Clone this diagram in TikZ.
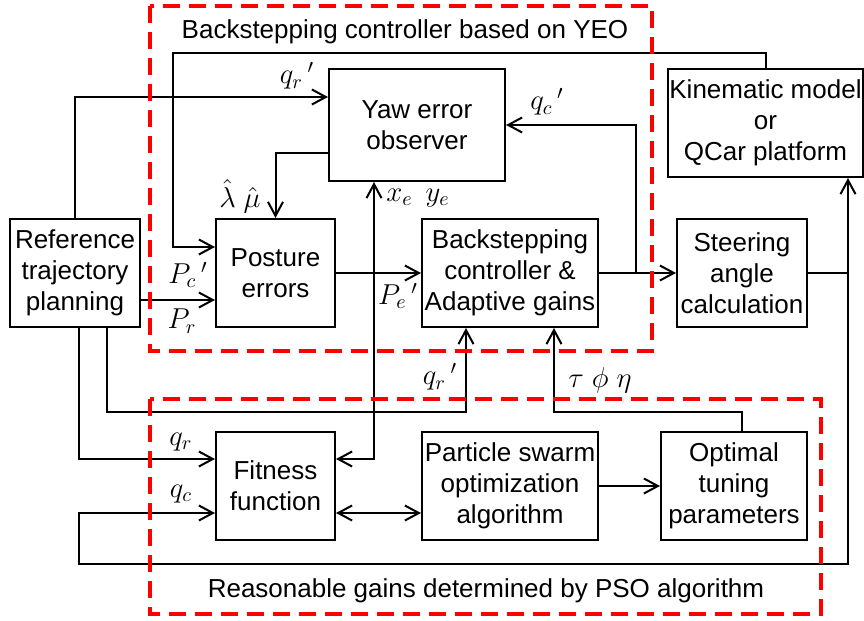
\documentclass[tikz,border=0pt]{standalone}
\usepackage{fontspec}
\setmainfont{Liberation Sans}
\usetikzlibrary{arrows.meta}
\begin{document}
\begin{tikzpicture}[x=0.5pt,y=-0.5pt,
  box/.style={draw, line width=1pt, align=center, inner sep=0pt, minimum height=54pt,
    font=\fontsize{13}{15.5}\selectfont},
  wire/.style={line width=1pt},
  tip/.tip={Straight Barb[length=7pt,width=7.5pt]},
  arr/.style={wire, -tip},
  darr/.style={wire, tip-tip},
  group/.style={draw=red, line width=2pt, dash pattern=on 8.5pt off 4.5pt},
  lab/.style={font=\fontsize{14.5}{16}\selectfont, inner sep=0pt},
  heading/.style={font=\fontsize{13}{15}\selectfont, inner sep=0pt}]

\useasboundingbox (0,0) rectangle (864,621);

% blocks
\node[box, minimum width=65pt]   (ref)   at (75,273)    {Reference\\trajectory\\planning};
\node[box, minimum width=59.5pt] (pe)    at (275.5,273) {Posture\\errors};
\node[box, minimum width=88pt, minimum height=56pt] (yeo) at (417,125) {Yaw error\\observer};
\node[box, minimum width=88pt]   (bs)    at (510,273)   {Backstepping\\controller \&\\Adaptive gains};
\node[box, minimum width=65pt]   (steer) at (742,273)   {Steering\\angle\\calculation};
\node[box, minimum width=97.5pt] (kin)   at (765.5,123) {Kinematic model\\or\\QCar platform};
\node[box, minimum width=59.5pt] (fit)   at (275.5,486) {Fitness\\function};
\node[box, minimum width=88pt]   (pso)   at (510,486)   {Particle swarm\\optimization\\algorithm};
\node[box, minimum width=73pt]   (opt)   at (734,486)   {Optimal\\tuning\\parameters};

% routing columns and rows
\coordinate (cTop)   at (173,53);
\coordinate (cXe)    at (374,0);
\coordinate (cSplit) at (636,273);
\coordinate (cRight) at (848,0);
\coordinate (cLow)   at (79,564);
\coordinate (cMid)   at (0,412);

% connectors
\draw[arr] (kin.north) |- (cTop) |- (pe.west |- 0,247);
\draw[arr] (ref.north) |- (yeo.west |- 0,97);
\draw[arr] (yeo.west |- 0,153) -| (pe.north);
\draw[arr] (ref.east |- 0,300) -- (pe.west |- 0,300);
\draw[arr] (pe.east) -- (bs.west);
\draw[darr] (fit.east |- 0,459) -| (cXe |- yeo.south);
\draw[arr] (bs.east) -- (steer.west);
\draw[arr] (cSplit) |- (yeo.east);
\draw[arr] (steer.east) -| (cRight |- kin.south);
\draw[arr] (cRight |- steer.east) |- (cLow) |- (fit.west |- 0,513);
\draw[arr] (79,0 |- ref.south) |- (fit.west |- 0,459);
\draw[arr] (107,0 |- ref.south) |- (cMid -| 466,0) -- (466,0 |- bs.south);
\draw[arr] (742,0 |- opt.north) |- (cMid -| 554,0) -- (554,0 |- bs.south);
\draw[darr] (fit.east |- 0,513) -- (pso.west |- 0,513);
\draw[arr] (pso.east) -- (opt.west);

% signal labels
\node[lab] (lqr1) at (297,76)  {$q_r\,{}'$};
\node[lab] (llm)  at (240,196) {$\hat{\lambda}\;\hat{\mu}$};
\node[lab] (lpc)  at (188,275) {$P_c\,{}'$};
\node[lab] (lpr)  at (182,321) {$P_r$};
\node[lab] (lxy)  at (418,198) {$x_e\;\,y_e$};
\node[lab] (lpe)  at (398,296) {$P_e\,{}'$};
\node[lab] (lqc1) at (547,102) {$q_c\,{}'$};
\node[lab] (lqr2) at (440,377) {$q_r\,{}'$};
\node[lab] (ltpe) at (600,380) {$\tau\;\phi\;\eta$};
\node[lab] (lqr)  at (181,442) {$q_r$};
\node[lab] (lqc)  at (181,494) {$q_c$};

% dashed groups and their headings
\draw[group] (150,6) rectangle (652,351);
\draw[group] (150,399) rectangle (821,614);
\node[heading] (h1) at (405,32)  {Backstepping controller based on YEO};
\node[heading] (h2) at (486,591) {Reasonable gains determined by PSO algorithm};
\end{tikzpicture}
\end{document}
